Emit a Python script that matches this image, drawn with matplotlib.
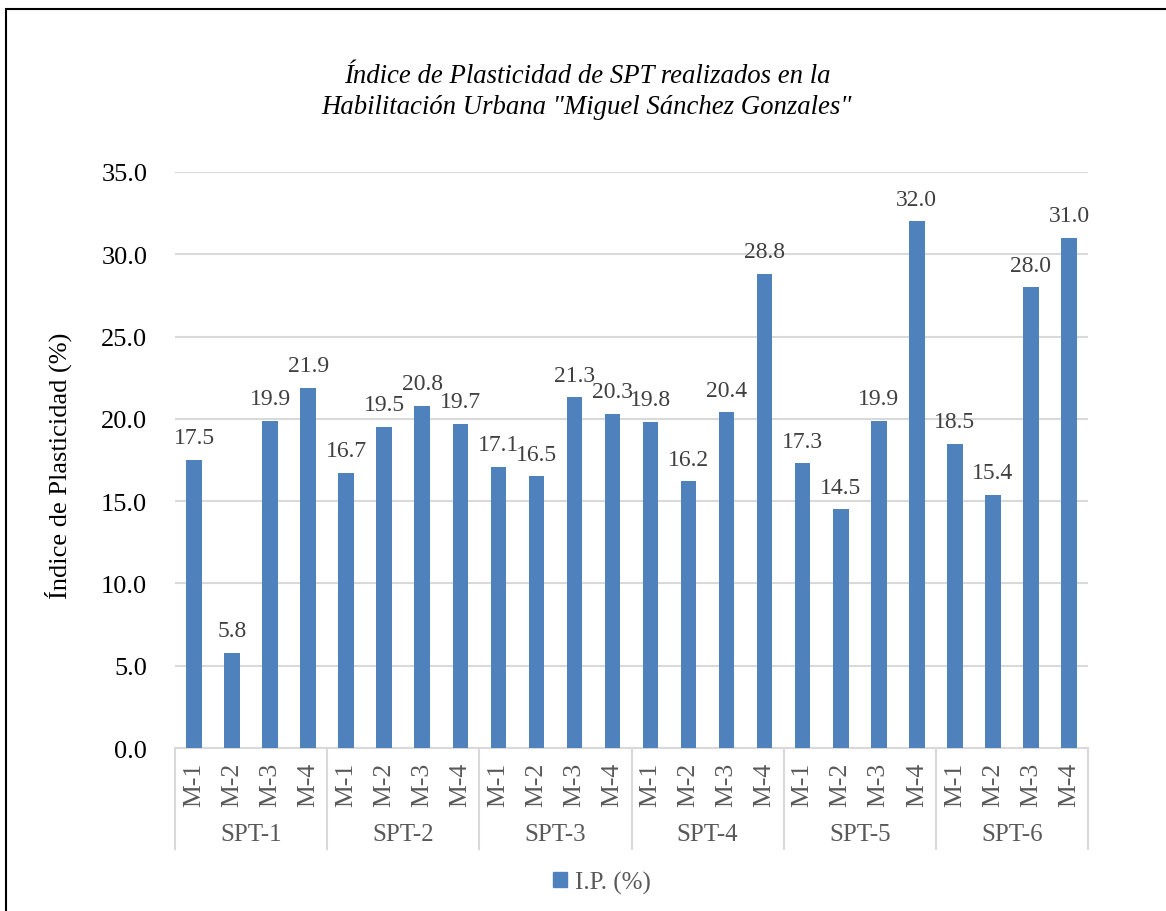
import matplotlib
matplotlib.use("Agg")
import matplotlib.pyplot as plt
from matplotlib.patches import Rectangle, Patch
from matplotlib.lines import Line2D
import numpy as np

# datos
groups = ["SPT-1", "SPT-2", "SPT-3", "SPT-4", "SPT-5", "SPT-6"]
samples = ["M-1", "M-2", "M-3", "M-4"]
ip_spt1 = [17.5, 5.8, 19.9, 21.9]
ip_spt2 = [16.7, 19.5, 20.8, 19.7]
ip_spt3 = [17.1, 16.5, 21.3, 20.3]
ip_spt4 = [19.8, 16.2, 20.4, 28.8]
ip_spt5 = [17.3, 14.5, 19.9, 32.0]
ip_spt6 = [18.5, 15.4, 28.0, 31.0]
yticks = [0, 5, 10, 15, 20, 25, 30, 35]

values = ip_spt1 + ip_spt2 + ip_spt3 + ip_spt4 + ip_spt5 + ip_spt6
labels = samples * len(groups)

plt.rcParams["font.family"] = ["Liberation Serif", "DejaVu Serif"]
BAR = "#4f81bd"
GRID = "#d9d9d9"

W, H = 1166, 912
fig = plt.figure(figsize=(W / 100, H / 100), dpi=100)
ax = fig.add_axes([175 / W, 1 - 749 / H, (1088 - 175) / W, (749 - 173) / H])

x = np.arange(len(values))
bars = ax.bar(x, values, width=0.41, color=BAR, zorder=3)

ax.set_xlim(-0.5, len(values) - 0.5)
ax.set_ylim(0, 35)
ax.set_yticks(yticks)
ax.set_yticklabels([f"{v:.1f}" for v in yticks])
ax.yaxis.grid(True, color=GRID, linewidth=1.5, zorder=0)
ax.tick_params(axis="y", length=0, pad=20, labelsize=19, labelcolor="black")
for s in ["top", "right", "left"]:
    ax.spines[s].set_visible(False)
ax.spines["bottom"].set_color(GRID)
ax.spines["bottom"].set_linewidth(1.5)

ax.set_xticks(x)
ax.set_xticklabels(labels, rotation=90)
ax.tick_params(axis="x", length=0, pad=10, labelsize=18.5, labelcolor="#595959")

# etiquetas de datos
for xi, v in zip(x, values):
    ax.annotate(f"{v:.1f}", (xi, v), xytext=(0, 12), textcoords="offset points",
                ha="center", va="baseline", fontsize=17, color="#404040")

# eje de categorías agrupado
trans = ax.get_xaxis_transform()
sep_bottom = -(850 - 749) / 576
for k in range(len(groups) + 1):
    xb = k * len(samples) - 0.5
    ax.add_line(Line2D([xb, xb], [0, sep_bottom], transform=trans, color=GRID,
                       linewidth=1.5, clip_on=False))
for k, g in enumerate(groups):
    xc = k * len(samples) + (len(samples) - 1) / 2
    ax.text(xc, -(835 - 749) / 576, g, transform=trans, ha="center", va="center",
            fontsize=18, color="#595959")

fig.text(58 / W, 1 - 466 / H, "Índice de Plasticidad (%)", rotation=90,
         ha="center", va="center", fontsize=19, color="black")

fig.text(587 / W, 1 - 92 / H,
         "Índice de Plasticidad de SPT realizados en la\n"
         "Habilitación Urbana \"Miguel Sánchez Gonzales\"",
         ha="center", va="center", fontsize=19.3, style="italic",
         linespacing=1.35, color="black")

fig.legend(handles=[Patch(color=BAR, label="I.P. (%)")], loc="center",
           bbox_to_anchor=(602 / W, 1 - 883 / H), frameon=False, fontsize=18,
           handlelength=0.55, handleheight=0.55, handletextpad=0.3,
           labelcolor="#595959")

# marco exterior
fig.add_artist(Rectangle((6 / W, -0.1), 1.2, 0.1 + 1 - 10 / H,
                         transform=fig.transFigure, fill=False,
                         edgecolor="black", linewidth=1.5))

fig.savefig("out.png", dpi=100)
